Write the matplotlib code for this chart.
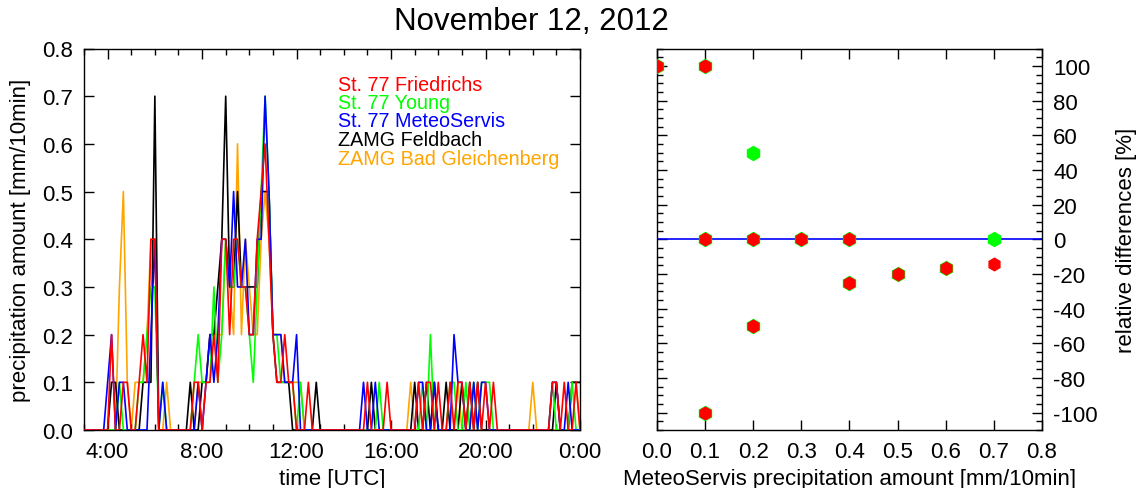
import numpy as np
import matplotlib
matplotlib.use("Agg")
import matplotlib.pyplot as plt
from matplotlib.ticker import MultipleLocator

plt.rcParams['font.family'] = ['Liberation Sans', 'DejaVu Sans']
plt.rcParams['axes.unicode_minus'] = False

# 10-min precipitation amounts [mm/10min], 3:00 .. 24:00 UTC, one row per hour
friedrichs = [
    0, 0, 0, 0, 0, 0,            # 3
    0, 0.2, 0, 0, 0.1, 0.1,      # 4
    0, 0, 0.1, 0.2, 0.1, 0.4,    # 5
    0.4, 0, 0, 0, 0, 0,          # 6
    0, 0, 0, 0, 0.1, 0.1,        # 7
    0, 0.1, 0.1, 0.2, 0.1, 0.4,  # 8
    0.4, 0.2, 0.4, 0.4, 0.3, 0.3,  # 9
    0.2, 0.2, 0.4, 0.5, 0.6, 0.4,  # 10
    0.2, 0.1, 0.1, 0.2, 0.1, 0.1,  # 11
    0, 0, 0, 0.1, 0, 0,          # 12
    0, 0, 0, 0, 0, 0,            # 13
    0, 0, 0, 0, 0, 0,            # 14
    0.1, 0, 0, 0, 0, 0.1,        # 15
    0, 0, 0, 0, 0, 0,            # 16
    0, 0.1, 0, 0.1, 0.1, 0,      # 17
    0.1, 0, 0, 0.1, 0, 0.1,      # 18
    0.1, 0, 0.1, 0, 0.1, 0,      # 19
    0.1, 0, 0.1, 0, 0, 0,        # 20
    0, 0, 0, 0, 0, 0,            # 21
    0, 0, 0, 0, 0, 0.1,          # 22
    0.1, 0, 0.1, 0, 0, 0.1,      # 23
    0]
young = [
    0, 0, 0, 0, 0, 0,
    0, 0, 0, 0.1, 0, 0,
    0, 0, 0.1, 0.1, 0.2, 0.3,
    0.3, 0, 0.1, 0, 0, 0,
    0, 0, 0, 0, 0.1, 0.2,
    0.1, 0.1, 0.1, 0.3, 0.1, 0.2,
    0.4, 0.3, 0.3, 0.4, 0.3, 0.3,
    0.2, 0.1, 0.3, 0.5, 0.7, 0.5,
    0.2, 0.2, 0.1, 0.1, 0.1, 0.1,
    0, 0.1, 0, 0, 0, 0,
    0, 0, 0, 0, 0, 0,
    0, 0, 0, 0, 0, 0,
    0, 0, 0, 0.1, 0, 0,
    0, 0, 0, 0, 0, 0,
    0, 0, 0.1, 0, 0.2, 0,
    0, 0, 0, 0.1, 0.1, 0,
    0, 0.1, 0, 0.1, 0, 0.1,
    0.1, 0.1, 0, 0, 0, 0,
    0, 0, 0, 0, 0, 0,
    0, 0, 0, 0, 0, 0.1,
    0, 0, 0, 0, 0.1, 0,
    0]
meteoservis = [
    0, 0, 0, 0, 0, 0,
    0.1, 0.2, 0, 0.1, 0.1, 0,
    0, 0, 0, 0, 0, 0.2,
    0.4, 0, 0.1, 0, 0, 0,
    0, 0, 0, 0, 0, 0.1,
    0, 0.1, 0.2, 0.1, 0.2, 0.4,
    0.4, 0.3, 0.5, 0.3, 0.3, 0.4,
    0.2, 0.2, 0.4, 0.4, 0.7, 0.5,
    0.2, 0.2, 0.2, 0.1, 0.1, 0.1,
    0.2, 0, 0, 0, 0, 0,
    0, 0, 0, 0, 0, 0,
    0, 0, 0, 0, 0, 0.1,
    0, 0, 0.1, 0, 0, 0,
    0, 0, 0, 0, 0, 0,
    0, 0.1, 0.1, 0, 0, 0.1,
    0, 0, 0, 0, 0.2, 0.1,
    0.1, 0, 0, 0.1, 0, 0.1,
    0.1, 0, 0, 0, 0, 0,
    0, 0, 0, 0, 0, 0,
    0, 0, 0, 0, 0, 0.1,
    0.1, 0, 0, 0.1, 0, 0,
    0]
feldbach = [
    0, 0, 0, 0, 0, 0,
    0, 0.1, 0.1, 0, 0, 0,
    0, 0, 0, 0.1, 0.1, 0.1,
    0.7, 0, 0, 0, 0, 0,
    0, 0, 0, 0.1, 0, 0,
    0.1, 0.1, 0.2, 0.2, 0.3, 0.4,
    0.7, 0.3, 0.3, 0.5, 0.3, 0.3,
    0.3, 0.3, 0.3, 0.5, 0.5, 0.5,
    0.2, 0.1, 0.1, 0.1, 0.1, 0,
    0, 0, 0, 0, 0, 0.1,
    0, 0, 0, 0, 0, 0,
    0, 0, 0, 0, 0, 0,
    0, 0.1, 0, 0, 0, 0,
    0, 0, 0, 0, 0, 0,
    0.1, 0, 0, 0.1, 0, 0.1,
    0, 0, 0.1, 0, 0, 0,
    0.1, 0, 0.1, 0, 0.1, 0,
    0, 0, 0, 0, 0, 0,
    0, 0, 0, 0, 0, 0,
    0, 0, 0, 0, 0, 0,
    0.1, 0, 0, 0, 0.1, 0.1,
    0.1]
gleichenberg = [
    0, 0, 0, 0, 0, 0,
    0, 0, 0, 0.3, 0.5, 0.1,
    0, 0.1, 0.1, 0.1, 0.2, 0.4,
    0.4, 0, 0, 0.1, 0, 0,
    0, 0, 0, 0, 0, 0.1,
    0.1, 0.1, 0.2, 0.2, 0.2, 0.2,
    0.4, 0.3, 0.2, 0.6, 0.2, 0.4,
    0.3, 0.2, 0.2, 0.4, 0.5, 0.4,
    0.2, 0.2, 0.2, 0.1, 0.1, 0.1,
    0.1, 0.1, 0, 0, 0, 0,
    0, 0, 0, 0, 0, 0,
    0, 0, 0, 0, 0, 0,
    0, 0, 0, 0, 0, 0,
    0, 0, 0, 0, 0, 0.1,
    0, 0, 0, 0, 0, 0,
    0, 0, 0, 0, 0, 0.1,
    0, 0, 0, 0, 0, 0,
    0, 0, 0, 0, 0, 0,
    0, 0, 0, 0, 0, 0,
    0.1, 0, 0, 0, 0, 0,
    0, 0, 0, 0, 0.1, 0.1,
    0]

series_names = ['St. 77 Friedrichs', 'St. 77 Young', 'St. 77 MeteoServis',
                'ZAMG Feldbach', 'ZAMG Bad Gleichenberg']
series_colors = ['#FF0000', '#00FF00', '#0000FF', '#000000', '#FFA500']

# relative differences vs MeteoServis
young_ms = [0.0, 0.1, 0.1, 0.1, 0.2, 0.2, 0.2, 0.3, 0.4, 0.4, 0.5, 0.6, 0.7]
young_rel = [100, 100, 0, -100, 50, 0, -50, 0, 0, -25, -20, -16.7, 0]
fried_ms = [0.0, 0.1, 0.1, 0.1, 0.2, 0.2, 0.3, 0.4, 0.4, 0.5, 0.6, 0.7]
fried_rel = [100, 100, 0, -100, 0, -50, 0, 0, -25, -20, -16.7, -14.3]

time_ticks = [4, 8, 12, 16, 20, 24]
time_labels = ['4:00', '8:00', '12:00', '16:00', '20:00', '0:00']

hours = 3 + np.arange(len(friedrichs)) / 6.0

fig = plt.figure(figsize=(11.41, 4.89), dpi=100)
ax1 = fig.add_axes([84 / 1141, 1 - 431 / 489, 496 / 1141, 381.5 / 489])
ax2 = fig.add_axes([657 / 1141, 1 - 431 / 489, 385 / 1141, 381.5 / 489])

# draw order: orange, black, green, blue, red
data = [friedrichs, young, meteoservis, feldbach, gleichenberg]
zorders = [5, 3, 4, 2, 1]
for vals, col, z in zip(data, series_colors, zorders):
    ax1.plot(hours, vals, color=col, lw=1.2, zorder=z)

ax1.set_xlim(3, 24)
ax1.set_ylim(0, 0.8)
ax1.set_xticks(time_ticks)
ax1.set_xticklabels(time_labels)
ax1.xaxis.set_minor_locator(MultipleLocator(1))
ax1.yaxis.set_major_locator(MultipleLocator(0.1))
ax1.yaxis.set_major_formatter(plt.FormatStrFormatter('%.1f'))
ax1.set_xlabel('time [UTC]', fontsize=16, labelpad=4)
ax1.set_ylabel('precipitation amount [mm/10min]', fontsize=16, labelpad=8)

leg_y = [0.912, 0.864, 0.816, 0.766, 0.716]
for name, col, yy in zip(series_names, series_colors, leg_y):
    ax1.text(0.512, yy, name, color=col, fontsize=14.2, transform=ax1.transAxes,
             ha='left', va='center_baseline')

ax2.plot(young_ms, young_rel, 'h', color='#00FF00', ms=10, mec='#00FF00', zorder=3)
ax2.plot(fried_ms, fried_rel, 'h', color='#FF0000', ms=9, mec='#FF0000', zorder=4)
ax2.axhline(0, color='#0000FF', lw=1.2, zorder=2)
ax2.set_xlim(0, 0.8)
ax2.set_ylim(-110, 110)
ax2.xaxis.set_major_locator(MultipleLocator(0.1))
ax2.xaxis.set_major_formatter(plt.FormatStrFormatter('%.1f'))
ax2.yaxis.set_major_locator(MultipleLocator(20))
ax2.yaxis.set_minor_locator(MultipleLocator(5))
ax2.set_xlabel('MeteoServis precipitation amount [mm/10min]', fontsize=16, labelpad=4)
ax2.yaxis.set_label_position('right')
ax2.set_ylabel('relative differences [%]', fontsize=16, labelpad=13)

for ax in (ax1, ax2):
    ax.tick_params(which='both', direction='in', top=True, right=True,
                   labelsize=16, width=1)
    ax.tick_params(which='major', length=7, pad=8)
    ax.tick_params(which='minor', length=4)
    for s in ax.spines.values():
        s.set_linewidth(1.0)
ax2.tick_params(labelleft=False, labelright=True)

fig.text(531 / 1141, 1 - 22 / 489, 'November 12, 2012', fontsize=22.5,
         ha='center', va='center')

fig.savefig('out.png', dpi=100)
